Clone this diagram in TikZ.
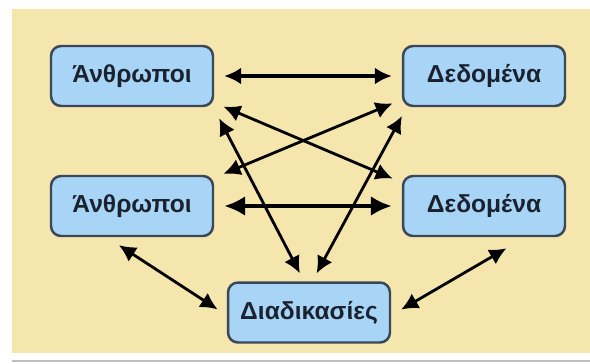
\documentclass[tikz,border=0pt]{standalone}
\usepackage{fontspec}
\setmainfont{Liberation Sans}
\usetikzlibrary{arrows.meta}
\definecolor{sand}{HTML}{F4E6AC}
\definecolor{boxblue}{HTML}{A8D4F6}
\definecolor{boxline}{HTML}{3A4758}
\definecolor{ink}{HTML}{1A2230}
\tikzset{
  entity/.style={draw=boxline, line width=1.4pt, fill=boxblue, rounded corners=0.2cm, text=ink,
    minimum width=3.24cm, minimum height=1.2cm, font=\bfseries\fontsize{14}{16}\selectfont},
  link/.style={{Latex[length=3.4mm,width=3.4mm]}-{Latex[length=3.4mm,width=3.4mm]}, line width=1.6pt,
    shorten <=0.2cm, shorten >=0.2cm}
}
\begin{document}
\begin{tikzpicture}[x=0.02cm,y=-0.02cm]
            \useasboundingbox (0,0) rectangle (590,363);
            \fill[white] (0,0) rectangle (590,363);
            \fill[sand] (12,9) rectangle (590,353);
            \draw[gray!50, line width=1.5pt] (12,361) -- (590,361);
            % boxes
            \node[entity] (a1) at (132,76) {Άνθρωποι};
            \node[entity] (d1) at (484,76) {Δεδομένα};
            \node[entity] (a2) at (132,206) {Άνθρωποι};
            \node[entity] (d2) at (484,206) {Δεδομένα};
            \node[entity] (p) at (309,312.5) {Διαδικασίες};
            % connections
            \draw[link, line width=1.8pt] (a1) -- (d1);
            \draw[{Latex[length=4.2mm,width=4mm]}-{Latex[length=4.2mm,width=4mm]}, line width=2.6pt,
              shorten <=0.2cm, shorten >=0.2cm] (a2) -- (d2);
            \draw[link] (a1.-18) -- (d2.164);
            \draw[link] (d1.196) -- (a2.19);
            \draw[link, shorten <=0.25cm, shorten >=0.18cm] (a1.-21) -- (p.99);
            \draw[link, shorten >=0.18cm] (d1.202.6) -- (p.84);
            \draw[link, shorten <=0.29cm, shorten >=0.22cm] (a2.-129) -- (p.182);
            \draw[link, shorten <=0.44cm, shorten >=0.23cm] (d2.-37) -- (p.-2.5);
        \end{tikzpicture}
\end{document}
